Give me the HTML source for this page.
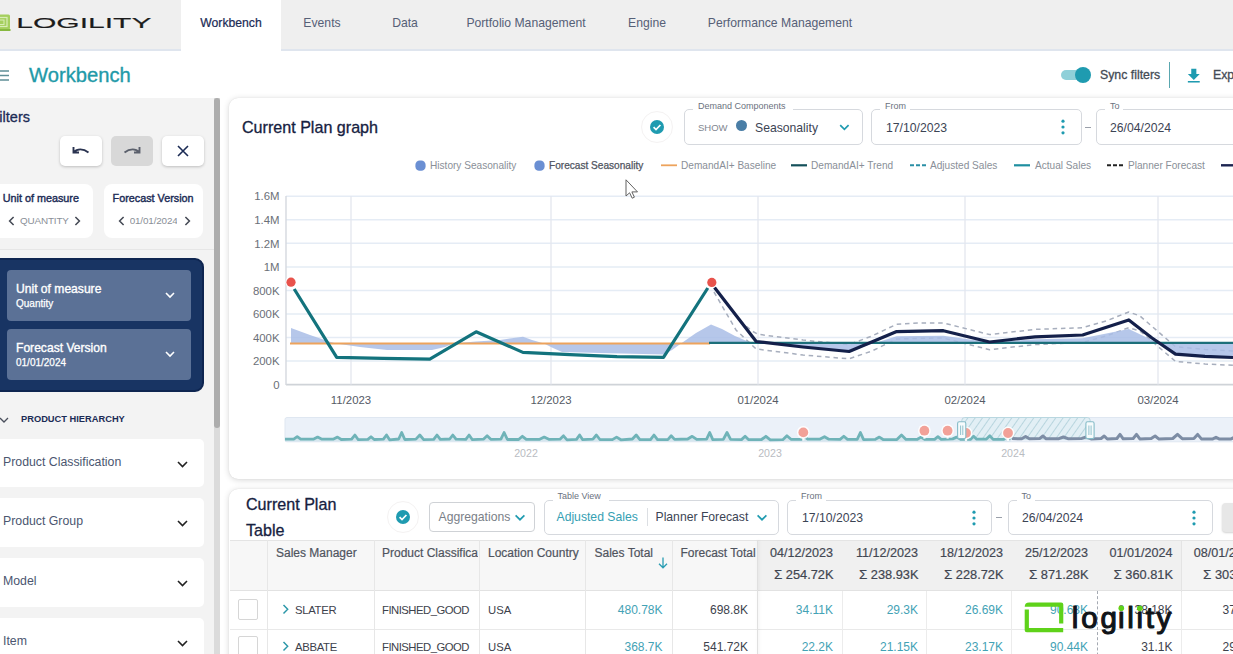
<!DOCTYPE html>
<html lang="en">
<head>
<meta charset="utf-8">
<title>Workbench</title>
<style>
*{box-sizing:border-box;margin:0;padding:0}
html,body{width:1233px;height:654px;overflow:hidden;background:#fff}
body{font-family:"Liberation Sans",sans-serif;color:#1d2a4a;position:relative;font-size:12px}
.a{position:absolute;white-space:nowrap}
svg{position:absolute;overflow:visible}

/* top nav */
#nav{left:0;top:0;width:1233px;height:51px;background:#efefef;border-bottom:2px solid #dfe5ee}
#nav .tab{top:0;height:51px;line-height:46px;font-size:12.2px;color:#566077;text-align:center}
#nav .tab.on{background:#fff;color:#1b2b55;height:52px;-webkit-text-stroke:.22px #1b2b55}

/* title bar */
#ttl{left:0;top:52px;width:1233px;height:46px;background:#fff}
#ttl h1{left:29px;top:10px;font-size:20.2px;font-weight:400;color:#1f9aa8;line-height:26px;-webkit-text-stroke:.35px #1f9aa8}

/* sidebar */
#side{left:0;top:98px;width:214px;height:556px;background:#f3f3f3;overflow:hidden}
#sbar{left:214px;top:98px;width:6px;height:556px;background:#dbdbdb}
#sbar i{display:block;width:6px;height:330px;background:#adadad;border-radius:3px}
.btn{top:37.6px;width:42px;height:30px;border-radius:5px;background:#fff;box-shadow:0 1px 3px rgba(0,0,0,.22)}
.mini{top:86px;height:54px;background:#fff;border-radius:8px}
.mini b{top:8px;font-size:10.8px;font-weight:400;color:#1b2b55;line-height:13px;-webkit-text-stroke:.4px #1b2b55}
.mini span{top:31px;font-size:9.9px;color:#8a8f98;line-height:12px;letter-spacing:-.15px}
#navy{left:-8px;top:160px;width:212px;height:134.2px;border-radius:9px;background:#183463;border:2px solid #0e2550}
.np{left:13px;width:184px;height:51px;border-radius:4px;background:#5b7196;color:#fff}
.np b{position:absolute;left:9px;top:12.2px;font-size:12.1px;font-weight:400;-webkit-text-stroke:.35px #fff;line-height:14px}
.np span{position:absolute;left:9px;top:28.2px;font-size:10px;line-height:12px;-webkit-text-stroke:.25px #fff}
.li{left:-6px;width:210px;height:48.6px;background:#fff;border-radius:5px;font-size:12.3px;color:#4b5670;line-height:47px;padding-left:9px}

/* cards + form controls */
.card{background:#fff;border-radius:9px;box-shadow:0 1px 6px rgba(0,0,0,.16),0 0 1px rgba(0,0,0,.12)}
.h2{font-size:16.1px;line-height:22px;color:#16213f;-webkit-text-stroke:.3px #16213f}
.fs{border:1.3px solid #d6d9de;border-radius:5px;background:#fff}
.fl{background:#fff;font-size:9px;line-height:10px;color:#6b7280;height:10px;padding-left:5px}
.ft{font-size:12.2px;line-height:16px;color:#3c4454}

/* table */
.th{font-size:12px;line-height:16px;color:#4f545e;-webkit-text-stroke:.2px #4f545e}
.th.dt{font-size:12.6px;color:#3f4550}
.th.sm{font-size:12.8px;color:#3f4550;-webkit-text-stroke:.2px #3f4550}
.th.sm i{font-style:normal;font-size:13.5px}
.td{font-size:12px;line-height:16px;color:#3d424c}
.td.tl{color:#43a2b5}
</style>
</head>
<body>

<!-- ============ TOP NAV ============ -->
<div id="nav" class="a">
  <svg width="160" height="51" viewBox="0 0 160 51" style="left:0;top:0">
    <rect x="-6" y="14.5" width="16" height="15" rx="1.5" fill="#a5cf5f"/>
    <rect x="-4" y="17.5" width="11" height="9" fill="none" stroke="#d9edb8" stroke-width="1.2"/>
    <rect x="-2" y="20" width="6" height="4.5" fill="none" stroke="#d9edb8" stroke-width="1"/>
    <rect x="-6" y="29" width="16.5" height="2" fill="#86b83f"/>
    <text x="16.2" y="27.6" font-family="Liberation Sans, sans-serif" font-size="13.9" fill="#1c1c1c" textLength="135.3" lengthAdjust="spacingAndGlyphs" stroke="#1c1c1c" stroke-width=".12">LOGILITY</text>
  </svg>
  <div class="a tab on" style="left:181px;width:100px">Workbench</div>
  <div class="a tab" style="left:292px;width:60px">Events</div>
  <div class="a tab" style="left:375px;width:60px">Data</div>
  <div class="a tab" style="left:456px;width:140px">Portfolio Management</div>
  <div class="a tab" style="left:617px;width:60px">Engine</div>
  <div class="a tab" style="left:700px;width:160px">Performance Management</div>
</div>

<!-- ============ TITLE BAR ============ -->
<div id="ttl" class="a">
  <svg width="12" height="14" style="left:-3px;top:17px"><path d="M0 2h12M0 6.5h12M0 11h12" stroke="#5f8f96" stroke-width="1.6"/></svg>
  <h1 class="a">Workbench</h1>
  <!-- toggle -->
  <div class="a" style="left:1061px;top:18px;width:26px;height:10px;border-radius:5px;background:#8fd0d9"></div>
  <div class="a" style="left:1075px;top:15px;width:16px;height:16px;border-radius:8px;background:#1f9bb0"></div>
  <div class="a" style="left:1100px;top:15px;font-size:12.3px;line-height:16px;color:#444b55;-webkit-text-stroke:.3px #444b55">Sync filters</div>
  <div class="a" style="left:1168.5px;top:10px;width:1.6px;height:26px;background:#5aa7b0"></div>
  <svg width="13.6" height="15.3" viewBox="0 0 16 18" style="left:1187.1px;top:15.6px"><path d="M5 1h6v6h4l-7 7-7-7h4z" fill="#1f9bb0"/><rect x="1" y="15.3" width="14" height="1.8" fill="#1f9bb0"/></svg>
  <div class="a" style="left:1213px;top:15px;font-size:12.3px;line-height:16px;color:#444b55;-webkit-text-stroke:.3px #444b55">Export</div>
</div>

<!-- ============ SIDEBAR ============ -->
<div id="side" class="a">
  <div class="a" style="right:184px;top:10.5px;font-size:14.5px;line-height:17px;color:#1b2b55;-webkit-text-stroke:.3px #1b2b55">Filters</div>
  <div class="a btn" style="left:60px"><svg width="20" height="12" style="left:11px;top:9px"><path d="M2.5 2v5.5H8M2.8 7.2C6 3.6 12 3.2 17.5 7.5" fill="none" stroke="#2a3350" stroke-width="1.9"/></svg></div>
  <div class="a btn" style="left:111px;background:#d8d8d8;box-shadow:none"><svg width="20" height="12" style="left:11px;top:9px"><path d="M17.5 2v5.5H12M17.2 7.2C14 3.6 8 3.2 2.5 7.5" fill="none" stroke="#5b606c" stroke-width="1.9"/></svg></div>
  <div class="a btn" style="left:162px"><svg width="12" height="12" style="left:15px;top:9px"><path d="M1 1l10 10M11 1L1 11" fill="none" stroke="#1b2b55" stroke-width="1.6"/></svg></div>

  <div class="a mini" style="left:-8px;width:101px"><b class="a" style="left:10.7px">Unit of measure</b><svg width="7" height="10" style="left:16px;top:32px"><path d="M5.6 1L1.6 5l4 4" fill="none" stroke="#444954" stroke-width="1.55"/></svg><span class="a" style="left:28px">QUANTITY</span><svg width="7" height="10" style="left:82px;top:32px"><path d="M1.4 1l4 4-4 4" fill="none" stroke="#444954" stroke-width="1.55"/></svg></div>
  <div class="a mini" style="left:104px;width:99px"><b class="a" style="left:8.6px">Forecast Version</b><svg width="7" height="10" style="left:14.3px;top:32px"><path d="M5.6 1L1.6 5l4 4" fill="none" stroke="#444954" stroke-width="1.55"/></svg><span class="a" style="left:25.7px;width:47.6px;overflow:hidden">01/01/2024</span><svg width="7" height="10" style="left:80.3px;top:32px"><path d="M1.4 1l4 4-4 4" fill="none" stroke="#444954" stroke-width="1.55"/></svg></div>
  <div class="a" style="left:0;top:151px;width:214px;height:1px;background:#e6e6e6"></div>

  <div id="navy" class="a">
    <div class="a np" style="top:10px"><b>Unit of measure</b><span>Quantity</span>
      <svg width="10" height="7" style="left:158px;top:22px"><path d="M1 1l4 4 4-4" fill="none" stroke="#fff" stroke-width="1.6"/></svg></div>
    <div class="a np" style="top:68.8px"><b>Forecast Version</b><span>01/01/2024</span>
      <svg width="10" height="7" style="left:158px;top:22px"><path d="M1 1l4 4 4-4" fill="none" stroke="#fff" stroke-width="1.6"/></svg></div>
  </div>

  <svg width="10" height="7" style="left:-1px;top:318.6px"><path d="M1 1l4 4 4-4" fill="none" stroke="#4a4f5c" stroke-width="1.3"/></svg>
  <div class="a" style="left:21px;top:314.8px;font-size:9.3px;font-weight:700;color:#1b2b55;line-height:12px">PRODUCT HIERARCHY</div>

  <div class="a li" style="top:340.8px">Product Classification<svg width="11" height="7" style="left:183px;top:22px"><path d="M1 1l4.5 4.5L10 1" fill="none" stroke="#222" stroke-width="1.6"/></svg></div>
  <div class="a li" style="top:400.4px">Product Group<svg width="11" height="7" style="left:183px;top:22px"><path d="M1 1l4.5 4.5L10 1" fill="none" stroke="#222" stroke-width="1.6"/></svg></div>
  <div class="a li" style="top:460px">Model<svg width="11" height="7" style="left:183px;top:22px"><path d="M1 1l4.5 4.5L10 1" fill="none" stroke="#222" stroke-width="1.6"/></svg></div>
  <div class="a li" style="top:519.6px">Item<svg width="11" height="7" style="left:183px;top:22px"><path d="M1 1l4.5 4.5L10 1" fill="none" stroke="#222" stroke-width="1.6"/></svg></div>
</div>
<div id="sbar" class="a"><i></i></div>

<!-- ============ GRAPH CARD ============ -->
<!--GRAPH-->
<div id="gcard" class="a card" style="left:229px;top:98px;width:1020px;height:381px"></div>
<div class="a h2" style="left:242px;top:116px">Current Plan graph</div>
<svg width="34" height="34" style="left:640px;top:110px"><circle cx="17" cy="17" r="15.5" fill="#fff" stroke="#f4f2f2" stroke-width="1"/><circle cx="17" cy="17" r="7" fill="#1f9bb0"/><path d="M13.6 17.2l2.4 2.4 4.4-4.6" fill="none" stroke="#fff" stroke-width="1.7"/></svg>
<div class="a fs" style="left:684px;top:109px;width:179px;height:36px"></div><div class="a fl" style="left:693px;top:100.5px;width:100px">Demand Components</div>
<div class="a" style="left:698px;top:121px;font-size:9.5px;line-height:14px;color:#81868f">SHOW</div>
<div class="a" style="left:736px;top:120px;width:10.6px;height:10.6px;border-radius:6px;background:#4a7ea6"></div>
<div class="a ft" style="left:755px;top:120px">Seasonality</div>
<svg width="11" height="8" style="left:839.3px;top:123.6px"><path d="M1.2 1.2l4.2 4.2 4.2-4.2" fill="none" stroke="#1f9bb0" stroke-width="1.7"/></svg>
<div class="a fs" style="left:871px;top:109px;width:211px;height:36px"></div><div class="a fl" style="left:880px;top:100.5px;width:30px">From</div>
<div class="a ft" style="left:886px;top:120px">17/10/2023</div>
<svg width="4" height="16" style="left:1061px;top:119px"><circle cx="2" cy="2.2" r="1.6" fill="#1f9bb0"/><circle cx="2" cy="8" r="1.6" fill="#1f9bb0"/><circle cx="2" cy="13.8" r="1.6" fill="#1f9bb0"/></svg>
<div class="a" style="left:1085px;top:126.5px;width:6px;height:1.3px;background:#9aa0aa"></div>
<div class="a fs" style="left:1096px;top:109px;width:160px;height:36px"></div><div class="a fl" style="left:1105px;top:100.5px;width:18px">To</div>
<div class="a ft" style="left:1110px;top:120px">26/04/2024</div>
<svg width="1233" height="654" viewBox="0 0 1233 654" style="left:0;top:0;pointer-events:none">
<defs><clipPath id="pc"><rect x="229" y="150" width="1004" height="320"/></clipPath><pattern id="hatch" width="6" height="6" patternUnits="userSpaceOnUse" patternTransform="rotate(35)"><rect width="6" height="6" fill="#e2eff5"/><rect width=".9" height="6" fill="#b4d2dc"/></pattern></defs>
<g clip-path="url(#pc)">
<rect x="415.4" y="160.6" width="10.2" height="10.2" rx="4.3" fill="#6a8fd3"/><text x="430" y="168.8" font-family="Liberation Sans, sans-serif" font-size="10.1" fill="#8a8f98" >History Seasonality</text>
<rect x="534.4" y="160.6" width="10.2" height="10.2" rx="4.3" fill="#6a8fd3"/><text x="549" y="168.8" font-family="Liberation Sans, sans-serif" font-size="10.1" fill="#50555f" stroke="#50555f" stroke-width=".25">Forecast Seasonality</text>
<path d="M661 165.3h16" stroke="#eda35c" stroke-width="1.8"/><text x="681" y="168.8" font-family="Liberation Sans, sans-serif" font-size="10.1" fill="#8a8f98" >DemandAI+ Baseline</text>
<path d="M791 165.3h16" stroke="#14505a" stroke-width="2.2"/><text x="811" y="168.8" font-family="Liberation Sans, sans-serif" font-size="10.1" fill="#8a8f98" >DemandAI+ Trend</text>
<path d="M910 165.3h16" stroke="#2a8fa5" stroke-width="2" stroke-dasharray="4 2"/><text x="930" y="168.8" font-family="Liberation Sans, sans-serif" font-size="10.1" fill="#8a8f98" >Adjusted Sales</text>
<path d="M1014 165.3h16" stroke="#1f8fa0" stroke-width="2.2"/><text x="1035" y="168.8" font-family="Liberation Sans, sans-serif" font-size="10.1" fill="#8a8f98" >Actual Sales</text>
<path d="M1107 165.3h16" stroke="#222" stroke-width="2" stroke-dasharray="4 2"/><text x="1128" y="168.8" font-family="Liberation Sans, sans-serif" font-size="10.1" fill="#8a8f98" >Planner Forecast</text>
<path d="M1221 165.3h16" stroke="#1b2350" stroke-width="2.4"/>
<path d="M286 196.2H1233" stroke="#e5ecf5" stroke-width="1.5"/>
<text x="279.5" y="200.4" text-anchor="end" font-family="Liberation Sans, sans-serif" font-size="11.4" fill="#6b7078">1.6M</text>
<path d="M286 219.8H1233" stroke="#e5ecf5" stroke-width="1.5"/>
<text x="279.5" y="223.9" text-anchor="end" font-family="Liberation Sans, sans-serif" font-size="11.4" fill="#6b7078">1.4M</text>
<path d="M286 243.3H1233" stroke="#e5ecf5" stroke-width="1.5"/>
<text x="279.5" y="247.5" text-anchor="end" font-family="Liberation Sans, sans-serif" font-size="11.4" fill="#6b7078">1.2M</text>
<path d="M286 266.9H1233" stroke="#e5ecf5" stroke-width="1.5"/>
<text x="279.5" y="271.1" text-anchor="end" font-family="Liberation Sans, sans-serif" font-size="11.4" fill="#6b7078">1M</text>
<path d="M286 290.4H1233" stroke="#e5ecf5" stroke-width="1.5"/>
<text x="279.5" y="294.6" text-anchor="end" font-family="Liberation Sans, sans-serif" font-size="11.4" fill="#6b7078">800K</text>
<path d="M286 313.9H1233" stroke="#e5ecf5" stroke-width="1.5"/>
<text x="279.5" y="318.1" text-anchor="end" font-family="Liberation Sans, sans-serif" font-size="11.4" fill="#6b7078">600K</text>
<path d="M286 337.5H1233" stroke="#e5ecf5" stroke-width="1.5"/>
<text x="279.5" y="341.7" text-anchor="end" font-family="Liberation Sans, sans-serif" font-size="11.4" fill="#6b7078">400K</text>
<path d="M286 361.0H1233" stroke="#e5ecf5" stroke-width="1.5"/>
<text x="279.5" y="365.2" text-anchor="end" font-family="Liberation Sans, sans-serif" font-size="11.4" fill="#6b7078">200K</text>
<path d="M286 384.6H1233" stroke="#cfd3d8" stroke-width="1.6"/>
<text x="279.5" y="388.8" text-anchor="end" font-family="Liberation Sans, sans-serif" font-size="11.4" fill="#6b7078">0</text>
<path d="M351 196V384.6" stroke="#e3e6ee" stroke-width="1.3"/>
<path d="M551 196V384.6" stroke="#e3e6ee" stroke-width="1.3"/>
<path d="M758 196V384.6" stroke="#e3e6ee" stroke-width="1.3"/>
<path d="M965 196V384.6" stroke="#e3e6ee" stroke-width="1.3"/>
<path d="M1158 196V384.6" stroke="#e3e6ee" stroke-width="1.3"/>
<path d="M286 196V385" stroke="#d4d8de" stroke-width="1.4"/>
<text x="351" y="404.3" text-anchor="middle" font-family="Liberation Sans, sans-serif" font-size="11.4" fill="#555b66">11/2023</text>
<text x="551" y="404.3" text-anchor="middle" font-family="Liberation Sans, sans-serif" font-size="11.4" fill="#555b66">12/2023</text>
<text x="758" y="404.3" text-anchor="middle" font-family="Liberation Sans, sans-serif" font-size="11.4" fill="#555b66">01/2024</text>
<text x="965" y="404.3" text-anchor="middle" font-family="Liberation Sans, sans-serif" font-size="11.4" fill="#555b66">02/2024</text>
<text x="1158" y="404.3" text-anchor="middle" font-family="Liberation Sans, sans-serif" font-size="11.4" fill="#555b66">03/2024</text>
<polygon points="291,343.6 291,328 310,335 329,341.5 336,343.6 360,347 387,350 432,350 445,347 453,343.6 476,341.5 500,340 523,336.7 532,340 544,343.6 553,348 562,352 600,353 664,354.5 672,350 681,343.6 696,333 711,324.5 711,343.6" fill="#a9bde6" opacity=".85"/>
<path d="M740 321L752 331L758 334.3L803 340L849 344.6L872 336L896.7 324.2L920 323L943.4 323L989.6 334.6L1035 329.4L1082.6 327.7L1106 321L1128.8 312L1140 316L1175.5 346.7L1205 349.5L1233 351" fill="none" stroke="#a7aebd" stroke-width="1.5" stroke-dasharray="4.5 3.8" stroke-linejoin="round"/>
<path d="M714 292L736 330L756 348.9L803 355L849 358.8L872 351L896.7 339L920 338.3L943 338L989.6 349.7L1035 344.6L1082.6 342.4L1106 336L1128.8 327.7L1140 331L1175.5 361.4L1205 364L1233 365.3" fill="none" stroke="#a7aebd" stroke-width="1.5" stroke-dasharray="4.5 3.8" stroke-linejoin="round"/>
<polygon points="711,342.8 711,324.5 722,329.0 735,336.0 748,341.5 756,342.8 756.2,342.0 803,346.5 849.1,351.0 896.7,336.3 943.4,335.8 989.6,342.3 1035,339.3 1082.6,338.3 1128.8,328.9 1152,340.0 1175.5,353.6 1205,355.8 1233,357.0 1233,342.8" fill="#a9bde6" opacity=".85"/>
<path d="M290 343.6H710" stroke="#eda35c" stroke-width="2" fill="none"/>
<path d="M709 342.8H1233" stroke="#1c6f7a" stroke-width="2.2"/>
<path d="M294.2 289L336.7 357.4L383 358.3L429.8 359.1L476.1 331.8L522.9 352.4L570 354.6L617 356.6L663.5 357.4L707.8 288" fill="none" stroke="#13737d" stroke-width="3.2" stroke-linejoin="round"/>
<path d="M714.5 287.5L756.2 341.5L803 347L849.1 351.5L896.7 331.6L943.4 330.7L989.6 342L1035 336.8L1082.6 335L1128.8 319.9L1152 338L1175.5 354.1L1205 356.3L1233 357.5" fill="none" stroke="#14204a" stroke-width="3.2" stroke-linejoin="round"/>
<circle cx="291" cy="282.2" r="5.6" fill="#fff" opacity=".9"/><circle cx="291" cy="282.2" r="4.6" fill="#e8534c"/>
<circle cx="711.8" cy="282.4" r="5.6" fill="#fff" opacity=".9"/><circle cx="711.8" cy="282.4" r="4.6" fill="#e8534c"/>
<rect x="285" y="417.5" width="960" height="24.3" rx="2" fill="#ebf1f9" stroke="#dfe7f1" stroke-width="1"/>
<path d="M961.8 439V420.5q0-3 3-3H1087.2q3 0 3 3V439z" fill="url(#hatch)" stroke="#b9d7e0" stroke-width="1"/>
<path d="M285 439.2L293.7 439.2L297.2 436.7L300.7 439.2L313.3 439.2L317.6 437.1L322.0 439.2L333.6 439.0L337.5 437.1L341.3 439.5L351.6 439.2L354.9 435.0L358.3 439.7L367.9 439.4L371.0 436.7L374.2 439.5L383.4 439.2L386.5 435.0L389.6 439.8L398.7 439.0L401.7 432.5L404.8 439.5L415.9 439.1L419.8 435.0L423.7 439.7L433.7 439.4L437.0 435.0L440.3 439.3L449.7 439.0L452.8 435.0L456.0 439.2L465.8 439.3L469.1 435.0L472.4 439.7L483.4 439.2L487.1 435.8L490.8 439.3L500.9 439.1L504.1 432.5L507.4 439.5L518.6 439.5L522.4 436.3L526.3 439.4L539.7 439.3L544.2 437.1L548.8 439.3L560.0 439.2L563.5 435.8L567.0 439.8L576.5 439.4L579.6 435.0L582.7 439.7L592.9 439.2L596.4 435.0L599.9 439.5L612.4 439.6L616.6 437.1L620.9 439.8L632.4 439.0L636.2 435.0L639.9 439.6L650.5 439.7L654.0 435.0L657.5 439.7L667.8 439.6L671.2 435.8L674.6 439.4L687.7 439.0L692.2 436.3L696.7 439.3L706.6 439.1L709.7 432.5L712.8 439.6L723.3 439.3L727.0 432.5L730.6 439.3L741.5 439.6L745.1 436.3L748.7 439.7L761.5 439.5L765.9 436.3L770.3 439.8L782.8 439.7L786.9 435.8L791.0 439.3L801.2 439.4L804.4 436.7L807.7 439.2L820.1 439.1L824.5 436.7L828.8 439.2L840.1 439.4L843.8 436.3L847.5 439.4L857.2 439.3L860.4 432.5L863.6 439.6L875.4 439.3L879.4 437.1L883.5 439.7L896.9 439.5L901.5 435.0L906.0 439.4L917.4 439.3L921.0 437.1L924.6 439.4L934.6 439.3L937.9 436.7L941.2 439.3L952.7 438.9L956.7 437.1L960.6 439.3L970.4 439.4L973.6 436.3L976.7 439.2L986.5 439.0L989.8 435.8L993.1 439.4L1003.6 439.3L1007.2 436.3L1010.7 439.3V441.5H285z" fill="#d5e6ee" stroke="none"/>
<path d="M285 439.2L293.7 439.2L297.2 436.7L300.7 439.2L313.3 439.2L317.6 437.1L322.0 439.2L333.6 439.0L337.5 437.1L341.3 439.5L351.6 439.2L354.9 435.0L358.3 439.7L367.9 439.4L371.0 436.7L374.2 439.5L383.4 439.2L386.5 435.0L389.6 439.8L398.7 439.0L401.7 432.5L404.8 439.5L415.9 439.1L419.8 435.0L423.7 439.7L433.7 439.4L437.0 435.0L440.3 439.3L449.7 439.0L452.8 435.0L456.0 439.2L465.8 439.3L469.1 435.0L472.4 439.7L483.4 439.2L487.1 435.8L490.8 439.3L500.9 439.1L504.1 432.5L507.4 439.5L518.6 439.5L522.4 436.3L526.3 439.4L539.7 439.3L544.2 437.1L548.8 439.3L560.0 439.2L563.5 435.8L567.0 439.8L576.5 439.4L579.6 435.0L582.7 439.7L592.9 439.2L596.4 435.0L599.9 439.5L612.4 439.6L616.6 437.1L620.9 439.8L632.4 439.0L636.2 435.0L639.9 439.6L650.5 439.7L654.0 435.0L657.5 439.7L667.8 439.6L671.2 435.8L674.6 439.4L687.7 439.0L692.2 436.3L696.7 439.3L706.6 439.1L709.7 432.5L712.8 439.6L723.3 439.3L727.0 432.5L730.6 439.3L741.5 439.6L745.1 436.3L748.7 439.7L761.5 439.5L765.9 436.3L770.3 439.8L782.8 439.7L786.9 435.8L791.0 439.3L801.2 439.4L804.4 436.7L807.7 439.2L820.1 439.1L824.5 436.7L828.8 439.2L840.1 439.4L843.8 436.3L847.5 439.4L857.2 439.3L860.4 432.5L863.6 439.6L875.4 439.3L879.4 437.1L883.5 439.7L896.9 439.5L901.5 435.0L906.0 439.4L917.4 439.3L921.0 437.1L924.6 439.4L934.6 439.3L937.9 436.7L941.2 439.3L952.7 438.9L956.7 437.1L960.6 439.3L970.4 439.4L973.6 436.3L976.7 439.2L986.5 439.0L989.8 435.8L993.1 439.4L1003.6 439.3L1007.2 436.3L1010.7 439.3" fill="none" stroke="#6fb3b8" stroke-width="2.8" stroke-linejoin="round"/>
<path d="M1012 438.6L1021.7 438.7L1025.6 436.5L1029.4 438.8L1039.6 438.6L1042.9 436.0L1046.2 438.8L1058.9 438.7L1063.4 437.0L1067.9 438.7L1081.8 438.4L1086.4 436.8L1091.1 438.9L1101.1 438.5L1104.2 436.0L1107.3 439.0L1116.9 438.5L1120.0 434.4L1123.2 438.8L1133.2 438.5L1136.5 434.4L1139.8 438.9L1151.2 438.5L1155.1 436.0L1159.0 439.1L1172.8 438.5L1177.5 434.4L1182.2 438.7L1193.9 438.5L1197.6 434.4L1201.4 438.9L1212.3 439.1L1216.0 437.3L1219.6 439.1L1231.1 438.9L1234.9 437.0L1238.8 439.2" fill="none" stroke="#7d8da5" stroke-width="3" stroke-linejoin="round"/>
<path d="M803.3 432.4v8" stroke="#fff" stroke-width="2.2" opacity=".9"/><circle cx="803.3" cy="432.4" r="6.4" fill="#fff" opacity=".9"/><circle cx="803.3" cy="432.4" r="4.9" fill="#f2a198"/>
<path d="M924.4 430.7v8" stroke="#fff" stroke-width="2.2" opacity=".9"/><circle cx="924.4" cy="430.7" r="6.4" fill="#fff" opacity=".9"/><circle cx="924.4" cy="430.7" r="4.9" fill="#f2a198"/>
<path d="M947.6 430.7v8" stroke="#fff" stroke-width="2.2" opacity=".9"/><circle cx="947.6" cy="430.7" r="6.4" fill="#fff" opacity=".9"/><circle cx="947.6" cy="430.7" r="4.9" fill="#f2a198"/>
<path d="M966 433v8" stroke="#fff" stroke-width="2.2" opacity=".9"/><circle cx="966" cy="433" r="6.4" fill="#fff" opacity=".9"/><circle cx="966" cy="433" r="4.9" fill="#f2a198"/>
<path d="M1008 433v8" stroke="#fff" stroke-width="2.2" opacity=".9"/><circle cx="1008" cy="433" r="6.4" fill="#fff" opacity=".9"/><circle cx="1008" cy="433" r="4.9" fill="#f2a198"/>
<rect x="957.6" y="421.8" width="8.2" height="16.8" rx="1.6" fill="#f6fbfc" stroke="#86bcc8" stroke-width="1.1"/><path d="M960.6 425.5v9.5M962.8000000000001 425.5v9.5" stroke="#86bcc8" stroke-width=".9"/>
<rect x="1085.9" y="421.8" width="8.2" height="16.8" rx="1.6" fill="#f6fbfc" stroke="#86bcc8" stroke-width="1.1"/><path d="M1088.9 425.5v9.5M1091.1 425.5v9.5" stroke="#86bcc8" stroke-width=".9"/>
<text x="526" y="457" text-anchor="middle" font-family="Liberation Sans, sans-serif" font-size="10.6" fill="#b9bcc2">2022</text>
<text x="770" y="457" text-anchor="middle" font-family="Liberation Sans, sans-serif" font-size="10.6" fill="#b9bcc2">2023</text>
<text x="1013" y="457" text-anchor="middle" font-family="Liberation Sans, sans-serif" font-size="10.6" fill="#b9bcc2">2024</text>
<path d="M626 179.8v16.2l3.6-3.2 2.6 5.4 2.2-1-2.5-5.3h5.6z" fill="#fff" stroke="#5a5a5a" stroke-width=".95" stroke-linejoin="round"/>
</g></svg>
<!--/GRAPH-->

<!-- ============ TABLE CARD ============ -->
<!--TABLE-->
<div id="tcard" class="a card" style="left:229px;top:488.5px;width:1020px;height:200px"></div>
<div class="a h2" style="left:246px;top:491px;line-height:26px">Current Plan<br>Table</div>
<svg width="34" height="34" style="left:386px;top:499.8px"><circle cx="17" cy="17" r="15.5" fill="#fff" stroke="#f4f2f2" stroke-width="1"/><circle cx="17" cy="17" r="7" fill="#1f9bb0"/><path d="M13.6 17.2l2.4 2.4 4.4-4.6" fill="none" stroke="#fff" stroke-width="1.7"/></svg>
<div class="a" style="left:429px;top:501.5px;width:105.5px;height:30px;border:1.2px solid #cfd2d6;border-radius:4px;background:#fff"></div>
<div class="a" style="left:438.5px;top:509px;font-size:12.2px;line-height:16px;color:#7a7f88">Aggregations</div>
<svg width="12" height="8" style="left:514px;top:513.5px"><path d="M1.6 1.4l4.4 4.3 4.4-4.3" fill="none" stroke="#1f9bb0" stroke-width="1.7"/></svg>
<div class="a fs" style="left:543.5px;top:499.5px;width:235px;height:35px"></div><div class="a fl" style="left:552.5px;top:491.0px;width:56px">Table View</div>
<div class="a ft" style="left:556.5px;top:509px;color:#35a0b3">Adjusted Sales</div>
<div class="a" style="left:646.5px;top:508px;width:1px;height:18px;background:#dcdfe3"></div>
<div class="a ft" style="left:655.5px;top:509px">Planner Forecast</div>
<svg width="12" height="8" style="left:755.5px;top:513.5px"><path d="M1.6 1.4l4.4 4.3 4.4-4.3" fill="none" stroke="#1f9bb0" stroke-width="1.7"/></svg>
<div class="a fs" style="left:787px;top:499.5px;width:205px;height:35px"></div><div class="a fl" style="left:796px;top:491.0px;width:30px">From</div>
<div class="a ft" style="left:802px;top:509.5px">17/10/2023</div>
<svg width="4" height="16" style="left:971.5px;top:509.5px"><circle cx="2" cy="2.2" r="1.6" fill="#1f9bb0"/><circle cx="2" cy="8" r="1.6" fill="#1f9bb0"/><circle cx="2" cy="13.8" r="1.6" fill="#1f9bb0"/></svg>
<div class="a" style="left:996px;top:517px;width:6px;height:1.3px;background:#9aa0aa"></div>
<div class="a fs" style="left:1007.5px;top:499.5px;width:205px;height:35px"></div><div class="a fl" style="left:1016.5px;top:491.0px;width:18px">To</div>
<div class="a ft" style="left:1022px;top:509.5px">26/04/2024</div>
<svg width="4" height="16" style="left:1192px;top:509.5px"><circle cx="2" cy="2.2" r="1.6" fill="#1f9bb0"/><circle cx="2" cy="8" r="1.6" fill="#1f9bb0"/><circle cx="2" cy="13.8" r="1.6" fill="#1f9bb0"/></svg>
<div class="a" style="left:1221.5px;top:502.5px;width:30px;height:29.5px;border-radius:4px;background:#e7e7e7;box-shadow:0 1px 2px rgba(0,0,0,.18)"></div>
<div class="a" style="left:229.5px;top:540px;width:528px;height:51.39999999999998px;background:#f7f7f7;border-top:1px solid #e4e4e4;border-bottom:1px solid #e2e2e2"></div>
<div class="a" style="left:757.5px;top:540px;width:480px;height:51.39999999999998px;background:#f0f0f0;border-top:1px solid #e4e4e4;border-bottom:1px solid #e2e2e2"></div>
<div class="a" style="left:1181px;top:541px;width:60px;height:49.39999999999998px;background:#f4f4f4"></div>
<div class="a" style="left:229.5px;top:629.1px;width:1010px;height:1.2px;background:#e9e9e9"></div>
<div class="a" style="left:266.5px;top:540px;width:1.1px;height:130px;background:#e7e7e7"></div>
<div class="a" style="left:373.5px;top:540px;width:1.1px;height:130px;background:#e7e7e7"></div>
<div class="a" style="left:479.0px;top:540px;width:1.1px;height:130px;background:#e7e7e7"></div>
<div class="a" style="left:585.0px;top:540px;width:1.1px;height:130px;background:#e7e7e7"></div>
<div class="a" style="left:671.5px;top:540px;width:1.1px;height:130px;background:#e7e7e7"></div>
<div class="a" style="left:756.5px;top:540px;width:1.3px;height:130px;background:#e0e0e0;box-shadow:1px 0 3px rgba(0,0,0,.10)"></div>
<div class="a" style="left:841.7px;top:591.4px;width:1.1px;height:80px;background:#ececec"></div>
<div class="a" style="left:926.3px;top:591.4px;width:1.1px;height:80px;background:#ececec"></div>
<div class="a" style="left:1011.0px;top:591.4px;width:1.1px;height:80px;background:#ececec"></div>
<div class="a" style="left:1180.5px;top:591.4px;width:1.1px;height:80px;background:#ececec"></div>
<div class="a" style="left:1181px;top:540px;width:1.1px;height:52px;background:#e4e4e4"></div>
<div class="a" style="left:1097px;top:591.4px;width:0;height:80px;border-left:1.1px dashed #a4a9b2"></div>
<div class="a th" style="left:276px;top:545px;">Sales Manager</div>
<div class="a th" style="left:382px;top:545px;width:95.5px;overflow:hidden;">Product Classification</div>
<div class="a th" style="left:488px;top:545px;">Location Country</div>
<div class="a th" style="left:594.5px;top:545px;">Sales Total</div>
<svg width="10" height="12" style="left:657.5px;top:557px"><path d="M5 .5v10M1 6.8l4 4 4-4" fill="none" stroke="#2a9db3" stroke-width="1.3"/></svg>
<div class="a th" style="left:680.5px;top:545px;">Forecast Total</div>
<div class="a th dt" style="right:400px;top:545px">04/12/2023</div>
<div class="a th sm" style="right:399.5px;top:566.5px"><i>&Sigma;</i> 254.72K</div>
<div class="a th dt" style="right:315px;top:545px">11/12/2023</div>
<div class="a th sm" style="right:314.5px;top:566.5px"><i>&Sigma;</i> 238.93K</div>
<div class="a th dt" style="right:230px;top:545px">18/12/2023</div>
<div class="a th sm" style="right:229.5px;top:566.5px"><i>&Sigma;</i> 228.72K</div>
<div class="a th dt" style="right:145px;top:545px">25/12/2023</div>
<div class="a th sm" style="right:144.5px;top:566.5px"><i>&Sigma;</i> 871.28K</div>
<div class="a th dt" style="right:60.5px;top:545px">01/01/2024</div>
<div class="a th sm" style="right:60.0px;top:566.5px"><i>&Sigma;</i> 360.81K</div>
<div class="a th dt" style="left:1193.8px;top:545px">08/01/2024</div>
<div class="a th sm" style="left:1203px;top:566.5px"><i>&Sigma;</i> 303.64K</div>
<div class="a" style="left:237.5px;top:599.2px;width:20.5px;height:20.5px;border:1.5px solid #d6d6d6;border-radius:2px;background:#fff"></div>
<svg width="8" height="11" style="left:282px;top:603.7px"><path d="M1.5 1l4.2 4.3-4.2 4.3" fill="none" stroke="#2b97a8" stroke-width="1.45"/></svg>
<div class="a td" style="left:295px;top:602.2px;font-size:11.3px;letter-spacing:-.3px">SLATER</div>
<div class="a td" style="left:382px;top:602.2px;font-size:11.3px;letter-spacing:-.5px">FINISHED_GOOD</div>
<div class="a td" style="left:488px;top:602.2px;font-size:11.3px">USA</div>
<div class="a td tl" style="right:570.5px;top:602.2px">480.78K</div>
<div class="a td" style="right:485px;top:602.2px">698.8K</div>
<div class="a td tl" style="right:400px;top:602.2px">34.11K</div>
<div class="a td tl" style="right:315px;top:602.2px">29.3K</div>
<div class="a td tl" style="right:230px;top:602.2px">26.69K</div>
<div class="a td tl" style="right:145px;top:602.2px">90.68K</div>
<div class="a td" style="right:60.5px;top:602.2px">38.18K</div>
<div class="a td" style="left:1222.6px;top:602.2px">37.5K</div>
<div class="a" style="left:237.5px;top:636.4px;width:20.5px;height:20.5px;border:1.5px solid #d6d6d6;border-radius:2px;background:#fff"></div>
<svg width="8" height="11" style="left:282px;top:640.9px"><path d="M1.5 1l4.2 4.3-4.2 4.3" fill="none" stroke="#2b97a8" stroke-width="1.45"/></svg>
<div class="a td" style="left:295px;top:639.4px;font-size:11.3px;letter-spacing:-.3px">ABBATE</div>
<div class="a td" style="left:382px;top:639.4px;font-size:11.3px;letter-spacing:-.5px">FINISHED_GOOD</div>
<div class="a td" style="left:488px;top:639.4px;font-size:11.3px">USA</div>
<div class="a td tl" style="right:570.5px;top:639.4px">368.7K</div>
<div class="a td" style="right:485px;top:639.4px">541.72K</div>
<div class="a td tl" style="right:400px;top:639.4px">22.2K</div>
<div class="a td tl" style="right:315px;top:639.4px">21.15K</div>
<div class="a td tl" style="right:230px;top:639.4px">23.17K</div>
<div class="a td tl" style="right:145px;top:639.4px">90.44K</div>
<div class="a td" style="right:60.5px;top:639.4px">31.1K</div>
<div class="a td" style="left:1222.6px;top:639.4px">29.6K</div>
<!--/TABLE-->

<!-- ============ WATERMARK ============ -->
<!--MARK-->
<svg id="wm" width="160" height="40" viewBox="1020 598 160 40" style="left:1020px;top:598px">
  <path d="M1026.8 606.8q0-2.2 2.4-2.2H1061.2V623.5" fill="none" stroke="#5fd21a" stroke-width="4.2" stroke-linejoin="round"/>
  <path d="M1026.8 609.5V630.2H1063.2" fill="none" stroke="#5fd21a" stroke-width="4.2" stroke-linejoin="round"/>
  <text id="wmt" x="1071.8 1081.2 1100.4 1118 1127.3 1136.5 1145.7 1156.4" y="628" font-family="Liberation Sans, sans-serif" font-weight="400" font-size="29.5" fill="#101418" stroke="#101418" stroke-width="1.15" stroke-linejoin="round">logility</text>
  <circle cx="1121.3" cy="608.2" r="2.8" fill="#5fd21a"/>
  <circle cx="1139.8" cy="608.2" r="2.8" fill="#5fd21a"/>
</svg>
<!--/MARK-->

</body>
</html>
